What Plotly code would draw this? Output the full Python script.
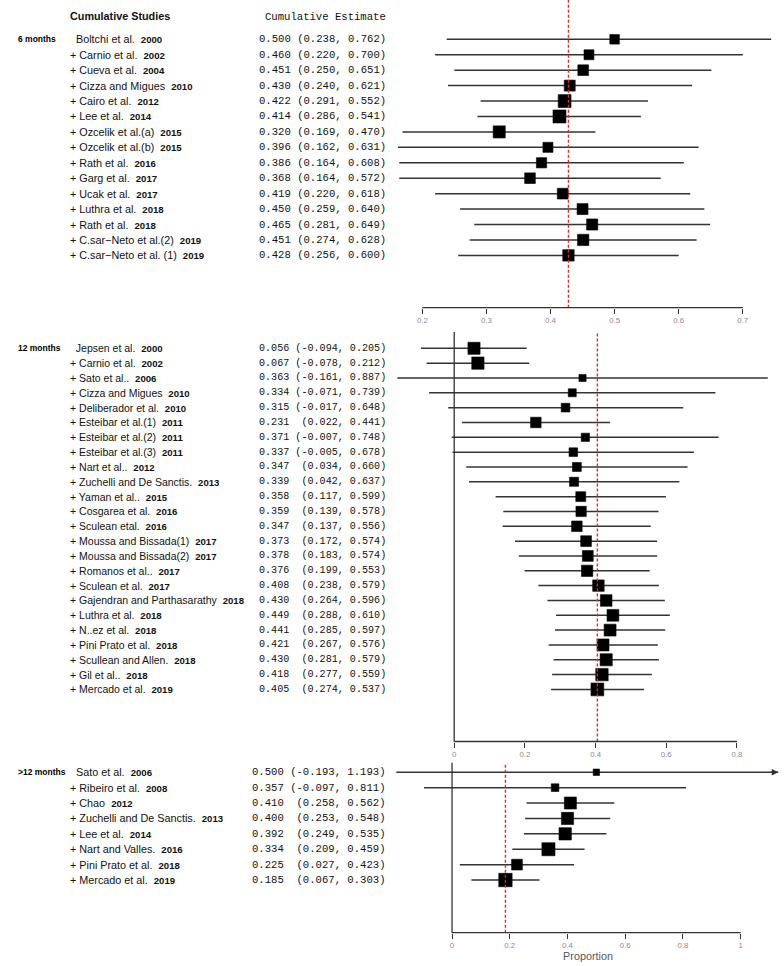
import plotly.graph_objects as go

W, H = 784, 966

# ---- 6 months ----
studies_6 = ["Boltchi et al.", "Carnio et al.", "Cueva et al.", "Cizza and Migues", "Cairo et al.",
             "Lee et al.", "Ozcelik et al.(a)", "Ozcelik et al.(b)", "Rath et al.", "Garg et al.",
             "Ucak et al.", "Luthra et al.", "Rath et al.", "C.sar\u2212Neto et al.(2)",
             "C.sar\u2212Neto et al. (1)"]
years_6 = [2000, 2002, 2004, 2010, 2012, 2014, 2015, 2015, 2016, 2017, 2017, 2018, 2018, 2019, 2019]
est_6 = [0.500, 0.460, 0.451, 0.430, 0.422, 0.414, 0.320, 0.396, 0.386, 0.368, 0.419, 0.450, 0.465, 0.451, 0.428]
lo_6 = [0.238, 0.220, 0.250, 0.240, 0.291, 0.286, 0.169, 0.162, 0.164, 0.164, 0.220, 0.259, 0.281, 0.274, 0.256]
hi_6 = [0.762, 0.700, 0.651, 0.621, 0.552, 0.541, 0.470, 0.631, 0.608, 0.572, 0.618, 0.640, 0.649, 0.628, 0.600]

# ---- 12 months ----
studies_12 = ["Jepsen et al.", "Carnio et al.", "Sato et al..", "Cizza and Migues", "Deliberador et al.",
              "Esteibar et al.(1)", "Esteibar et al.(2)", "Esteibar et al.(3)", "Nart et al..",
              "Zuchelli and De Sanctis.", "Yaman et al..", "Cosgarea et al.", "Sculean etal.",
              "Moussa and Bissada(1)", "Moussa and Bissada(2)", "Romanos et al..", "Sculean et al.",
              "Gajendran and Parthasarathy", "Luthra et al.", "N..ez et al.", "Pini Prato et al.",
              "Scullean and Allen.", "Gil et al..", "Mercado et al."]
years_12 = [2000, 2002, 2006, 2010, 2010, 2011, 2011, 2011, 2012, 2013, 2015, 2016, 2016, 2017, 2017,
            2017, 2017, 2018, 2018, 2018, 2018, 2018, 2018, 2019]
est_12 = [0.056, 0.067, 0.363, 0.334, 0.315, 0.231, 0.371, 0.337, 0.347, 0.339, 0.358, 0.359, 0.347,
          0.373, 0.378, 0.376, 0.408, 0.430, 0.449, 0.441, 0.421, 0.430, 0.418, 0.405]
lo_12 = [-0.094, -0.078, -0.161, -0.071, -0.017, 0.022, -0.007, -0.005, 0.034, 0.042, 0.117, 0.139, 0.137,
         0.172, 0.183, 0.199, 0.238, 0.264, 0.288, 0.285, 0.267, 0.281, 0.277, 0.274]
hi_12 = [0.205, 0.212, 0.887, 0.739, 0.648, 0.441, 0.748, 0.678, 0.660, 0.637, 0.599, 0.578, 0.556,
         0.574, 0.574, 0.553, 0.579, 0.596, 0.610, 0.597, 0.576, 0.579, 0.559, 0.537]

# ---- >12 months ----
studies_gt = ["Sato et al.", "Ribeiro et al.", "Chao", "Zuchelli and De Sanctis.", "Lee et al.",
              "Nart and Valles.", "Pini Prato et al.", "Mercado et al."]
years_gt = [2006, 2008, 2012, 2013, 2014, 2016, 2018, 2019]
est_gt = [0.500, 0.357, 0.410, 0.400, 0.392, 0.334, 0.225, 0.185]
lo_gt = [-0.193, -0.097, 0.258, 0.253, 0.249, 0.209, 0.027, 0.067]
hi_gt = [1.193, 0.811, 0.562, 0.548, 0.535, 0.459, 0.423, 0.303]

ticks_6 = [0.2, 0.3, 0.4, 0.5, 0.6, 0.7]
ticktext_6 = ["0.2", "0.3", "0.4", "0.5", "0.6", "0.7"]
ticks_12 = [0, 0.2, 0.4, 0.6, 0.8]
ticktext_12 = ["0", "0.2", "0.4", "0.6", "0.8"]
ticks_gt = [0, 0.2, 0.4, 0.6, 0.8, 1]
ticktext_gt = ["0", "0.2", "0.4", "0.6", "0.8", "1"]


def px_x(p):
    return p / W


def px_y(p):
    return 1 - p / H


# panel geometry (pixels measured on the reference)
panels = [
    dict(label="6 months", names=studies_6, years=years_6, est=est_6, lo=lo_6, hi=hi_6,
         ticks=ticks_6, ticktext=ticktext_6, xr=[0.1527, 0.7643], dom=[307.7, 0], yr=[17.39, -2.547],
         zero=False, fs=10.8, mfs=10.6),
    dict(label="12 months", names=studies_12, years=years_12, est=est_12, lo=lo_12, hi=hi_12,
         ticks=ticks_12, ticktext=ticktext_12, xr=[-0.176, 0.933], dom=[741.5, 332], yr=[26.51, -1.10],
         zero=True, fs=10.5, mfs=10.1),
    dict(label=">12 months", names=studies_gt, years=years_gt, est=est_gt, lo=lo_gt, hi=hi_gt,
         ticks=ticks_gt, ticktext=ticktext_gt, xr=[-0.208, 1.150], dom=[932.7, 762.7], yr=[10.42, -0.62],
         zero=True, fs=10.8, mfs=10.6),
]

fig = go.Figure()
annotations = []
shapes = []
line_col = "#333333"
sans = "Liberation Sans, Arial, sans-serif"
mono = "Liberation Mono, Courier New, monospace"

for k, p in enumerate(panels):
    sfx = "" if k == 0 else str(k + 1)
    xa, ya = "x" + sfx, "y" + sfx
    rows = list(range(len(p["est"])))
    arrow_lim = p["xr"][1] - 0.02

    xs, ys = [], []
    for i in rows:
        xs += [p["lo"][i], min(p["hi"][i], arrow_lim), None]
        ys += [i, i, None]
        if p["hi"][i] > p["xr"][1]:
            annotations.append(dict(x=arrow_lim, y=i, ax=arrow_lim - 0.03, ay=i, xref=xa, yref=ya,
                                    axref=xa, ayref=ya, text="", showarrow=True, arrowhead=2,
                                    arrowsize=1, arrowwidth=1.3, arrowcolor=line_col))
    fig.add_trace(go.Scatter(x=xs, y=ys, mode="lines", line=dict(color=line_col, width=1.5),
                             xaxis=xa, yaxis=ya, hoverinfo="skip", showlegend=False))

    sizes = [7.3 * (p["hi"][i] - p["lo"][i]) ** -0.42 for i in rows]
    fig.add_trace(go.Scatter(x=p["est"], y=rows, mode="markers",
                             marker=dict(symbol="square", color="#000000", size=sizes, opacity=1,
                                         line=dict(width=0.6, color="#000000")),
                             xaxis=xa, yaxis=ya, showlegend=False))

    # pooled (last cumulative) estimate
    shapes.append(dict(type="line", xref=xa, yref=ya + " domain", x0=p["est"][-1], x1=p["est"][-1],
                       y0=0, y1=1, line=dict(color="#e02a2a", width=1.4, dash="3px,2px")))
    if p["zero"]:
        shapes.append(dict(type="line", xref=xa, yref=ya + " domain", x0=0, x1=0, y0=0, y1=1,
                           line=dict(color=line_col, width=1.3)))
    # axis line spanning first to last tick
    shapes.append(dict(type="line", xref=xa, yref=ya + " domain", x0=p["ticks"][0], x1=p["ticks"][-1],
                       y0=0, y1=0, line=dict(color=line_col, width=1.3)))

    # left text columns
    annotations.append(dict(x=px_x(16), y=0, xref="paper", yref=ya, xanchor="left", showarrow=False,
                            text="<b>" + p["label"] + "</b>", font=dict(family=sans, size=8.5, color="black")))
    wid = max(len("(%.3f," % v) for v in p["lo"])
    for i in rows:
        prefix = "\u00a0\u00a0" if i == 0 else "+ "
        txt = prefix + p["names"][i] + "\u00a0 <b><span style=\"font-size:9.6px\">" + str(p["years"][i]) + "</span></b>"
        annotations.append(dict(x=px_x(68), y=i, xref="paper", yref=ya, xanchor="left", showarrow=False,
                                text=txt, font=dict(family=sans, size=p["fs"], color="#111111")))
        est_txt = "%.3f " % p["est"][i] + ("(%.3f," % p["lo"][i]).rjust(wid) + " %.3f)" % p["hi"][i]
        annotations.append(dict(x=px_x(388), y=i, xref="paper", yref=ya, xanchor="right", showarrow=False,
                                text=est_txt.replace(" ", "\u00a0"),
                                font=dict(family=mono, size=p["mfs"], color="#111111")))

    axis_common = dict(showgrid=False, zeroline=False, showline=False, ticks="outside", ticklen=5,
                       tickwidth=1, tickcolor=line_col, tickfont=dict(family=sans, size=7.8, color="#8a8a8a"),
                       tickvals=p["ticks"], ticktext=p["ticktext"], range=p["xr"], domain=[0.5, 1.0],
                       anchor=ya, fixedrange=True)
    if k == 2:
        axis_common["title"] = dict(text="Proportion", font=dict(family=sans, size=10.8, color="#555555"),
                                    standoff=2)
    fig.layout["xaxis" + sfx] = axis_common
    fig.layout["yaxis" + sfx] = dict(range=p["yr"], domain=[px_y(p["dom"][0]), px_y(p["dom"][1])],
                                     visible=False, anchor=xa, fixedrange=True)

annotations.append(dict(x=px_x(68), y=px_y(8), xref="paper", yref="paper", xanchor="left", showarrow=False,
                        text="<b>Cumulative Studies</b>", font=dict(family=sans, size=10.8, color="#111111")))
annotations.append(dict(x=px_x(388), y=px_y(9), xref="paper", yref="paper", xanchor="right", showarrow=False,
                        text="Cumulative Estimate", font=dict(family=mono, size=10.6, color="#111111")))

fig.update_layout(width=W, height=H, margin=dict(l=0, r=0, t=0, b=0), plot_bgcolor="white",
                  paper_bgcolor="white", annotations=annotations, shapes=shapes, showlegend=False,
                  hovermode=False)

fig.write_html("out.html", config={"displayModeBar": False},
               post_script="document.body.style.margin='0';")
